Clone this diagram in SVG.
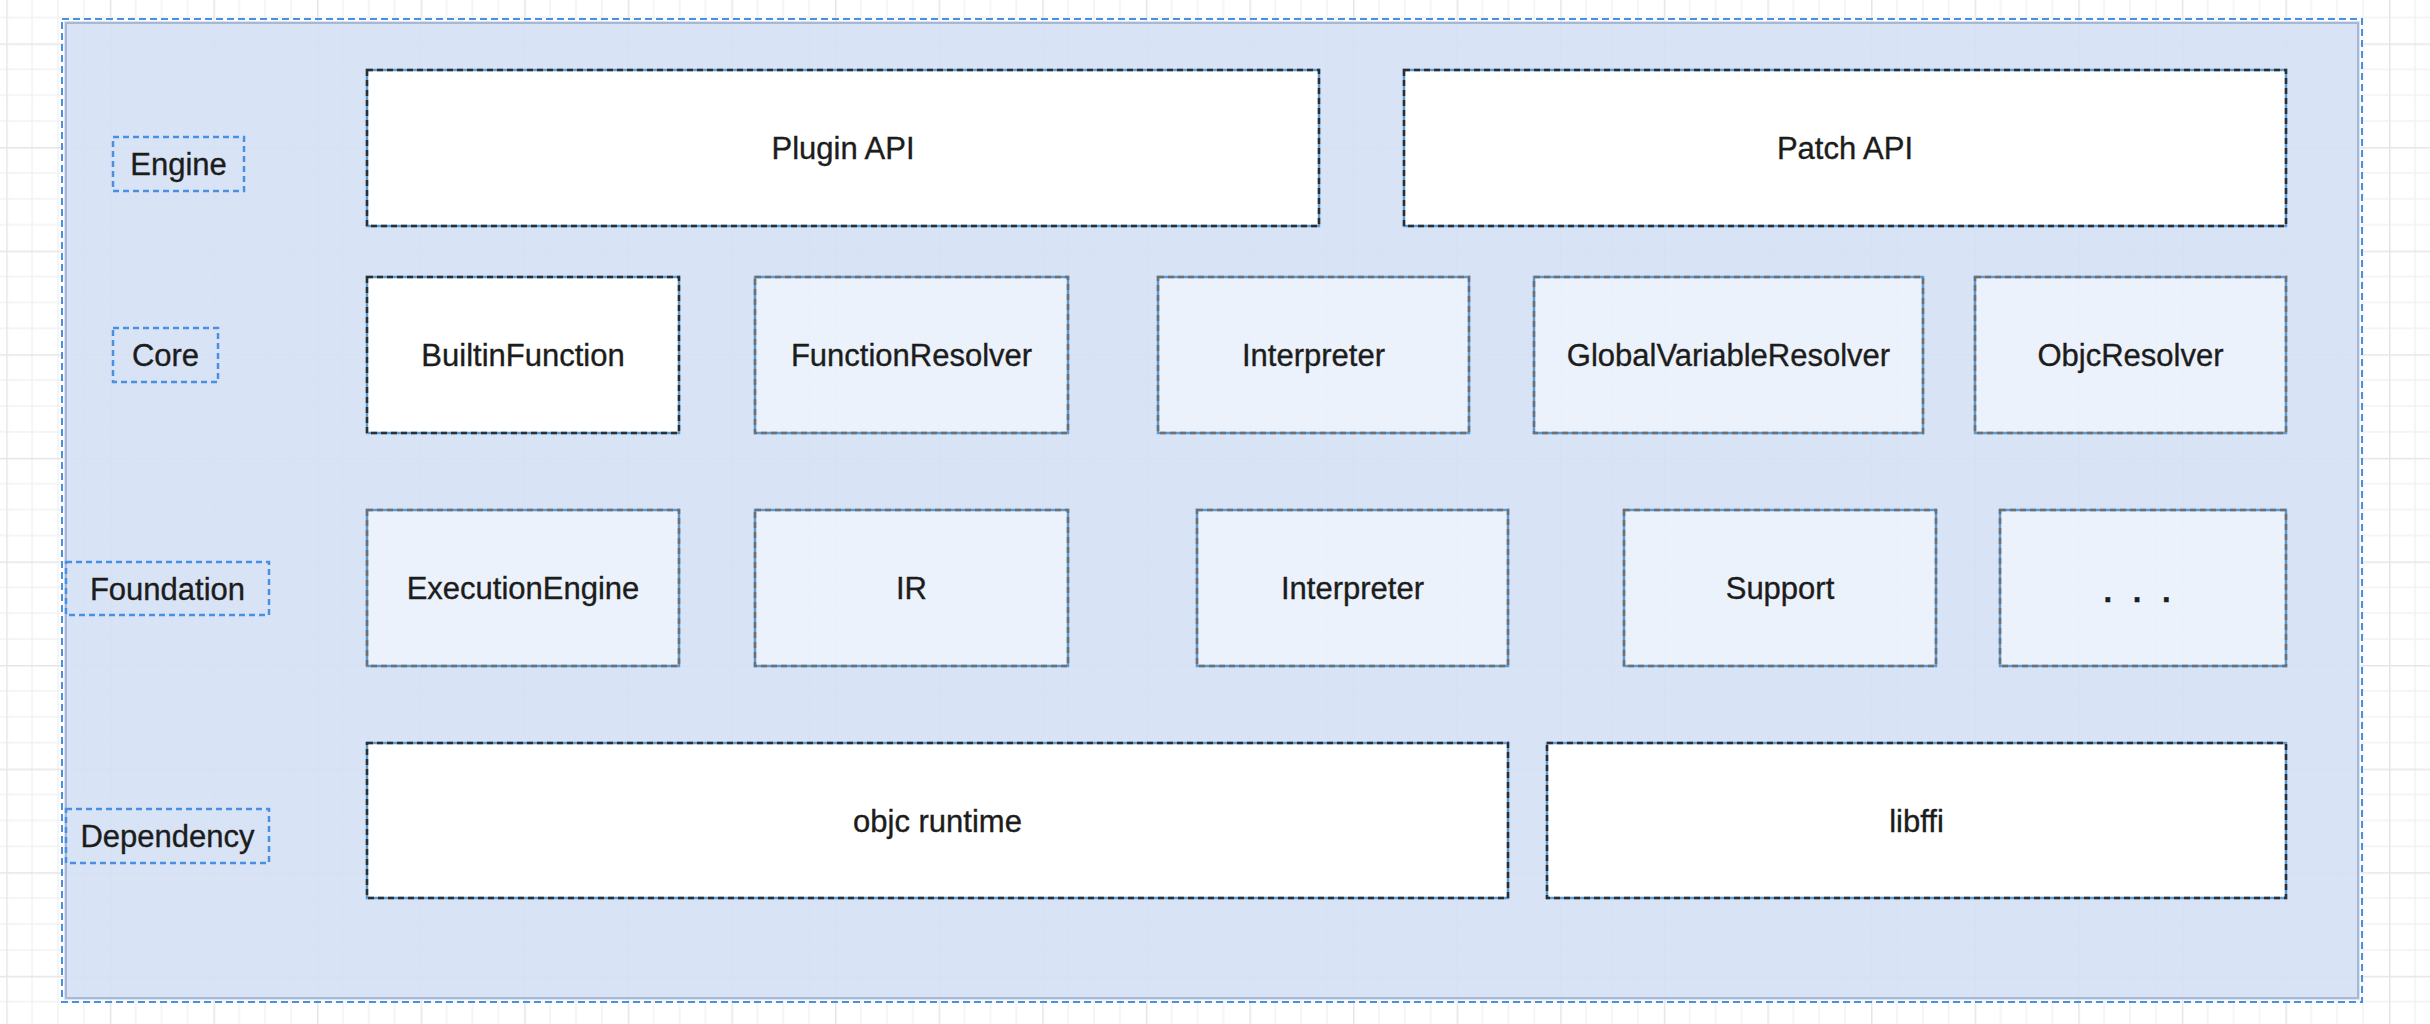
<svg xmlns="http://www.w3.org/2000/svg" width="2430" height="1024" viewBox="0 0 2430 1024">
  <defs>
    <pattern id="grid" patternUnits="userSpaceOnUse" x="6.2" y="43.4" width="103.6" height="103.6">
      <path d="M25.9 0V103.6M51.8 0V103.6M77.7 0V103.6M0 25.9H103.6M0 51.8H103.6M0 77.7H103.6" stroke="#f2f2f2" stroke-width="1.5" fill="none"/>
      <path d="M0.75 0V103.6M0 0.75H103.6" stroke="#e6e6e6" stroke-width="1.5" fill="none"/>
    </pattern>
    <style>
      .lbl{font-family:"Liberation Sans",Arial,Helvetica,sans-serif;font-size:31px;fill:#1c1c1c;stroke:#1c1c1c;stroke-width:0.35;text-anchor:middle}
      .base{stroke:#5b9bd5;stroke-width:2.5}
      .dk{fill:none;stroke:#2e2e2e;stroke-width:2.5;stroke-dasharray:6 4}
      .gr{fill:none;stroke:#707070;stroke-width:2.5;stroke-dasharray:6 4}
      .white{fill:#ffffff}
      .light{fill:#ffffff;fill-opacity:0.5}
      .tag{fill:none;stroke:#4a90e2;stroke-width:2.5;stroke-dasharray:6 4}
    </style>
  </defs>
  <rect width="2430" height="1024" fill="#ffffff"/>
  <rect width="2430" height="1024" fill="url(#grid)"/>

  <g id="container">
    <rect x="64" y="21" width="2296" height="979" fill="#d4e1f5" fill-opacity="0.9"/>
    <rect x="66" y="23" width="2292" height="975" fill="none" stroke="#a8b8d2" stroke-width="2"/>
    <rect x="62" y="19" width="2300" height="983" fill="none" stroke="#4a90e2" stroke-width="2" stroke-dasharray="7 4"/>
  </g>

  <g id="labels">
    <g id="label-engine"><rect class="tag" x="113" y="137" width="131" height="54"/><text class="lbl" x="178.5" y="175">Engine</text></g>
    <g id="label-core"><rect class="tag" x="113" y="328" width="105" height="54"/><text class="lbl" x="165.5" y="366">Core</text></g>
    <g id="label-foundation"><rect class="tag" x="66" y="562" width="203" height="53"/><text class="lbl" x="167.5" y="599.5">Foundation</text></g>
    <g id="label-dependency"><rect class="tag" x="66" y="809" width="203" height="54"/><text class="lbl" x="167.5" y="847">Dependency</text></g>
  </g>

  <g id="engine-row">
    <g id="plugin-api"><rect class="white base" x="367" y="70" width="952" height="156"/><rect class="dk" x="367" y="70" width="952" height="156"/><text class="lbl" x="843" y="159">Plugin API</text></g>
    <g id="patch-api"><rect class="white base" x="1404" y="70" width="882" height="156"/><rect class="dk" x="1404" y="70" width="882" height="156"/><text class="lbl" x="1845" y="159">Patch API</text></g>
  </g>

  <g id="core-row">
    <g id="builtin-function"><rect class="white base" x="367" y="277" width="312" height="156"/><rect class="dk" x="367" y="277" width="312" height="156"/><text class="lbl" x="523" y="366">BuiltinFunction</text></g>
    <g id="function-resolver"><rect class="light base" x="755" y="277" width="313" height="156"/><rect class="gr" x="755" y="277" width="313" height="156"/><text class="lbl" x="911.5" y="366">FunctionResolver</text></g>
    <g id="interpreter-core"><rect class="light base" x="1158" y="277" width="311" height="156"/><rect class="gr" x="1158" y="277" width="311" height="156"/><text class="lbl" x="1313.5" y="366">Interpreter</text></g>
    <g id="global-variable-resolver"><rect class="light base" x="1534" y="277" width="389" height="156"/><rect class="gr" x="1534" y="277" width="389" height="156"/><text class="lbl" x="1728.5" y="366">GlobalVariableResolver</text></g>
    <g id="objc-resolver"><rect class="light base" x="1975" y="277" width="311" height="156"/><rect class="gr" x="1975" y="277" width="311" height="156"/><text class="lbl" x="2130.5" y="366">ObjcResolver</text></g>
  </g>

  <g id="foundation-row">
    <g id="execution-engine"><rect class="light base" x="367" y="510" width="312" height="156"/><rect class="gr" x="367" y="510" width="312" height="156"/><text class="lbl" x="523" y="599">ExecutionEngine</text></g>
    <g id="ir"><rect class="light base" x="755" y="510" width="313" height="156"/><rect class="gr" x="755" y="510" width="313" height="156"/><text class="lbl" x="911.5" y="599">IR</text></g>
    <g id="interpreter-foundation"><rect class="light base" x="1197" y="510" width="311" height="156"/><rect class="gr" x="1197" y="510" width="311" height="156"/><text class="lbl" x="1352.5" y="599">Interpreter</text></g>
    <g id="support"><rect class="light base" x="1624" y="510" width="312" height="156"/><rect class="gr" x="1624" y="510" width="312" height="156"/><text class="lbl" x="1780" y="599">Support</text></g>
    <g id="more"><rect class="light base" x="2000" y="510" width="286" height="156"/><rect class="gr" x="2000" y="510" width="286" height="156"/><text class="lbl" x="2140" y="602" font-weight="bold" letter-spacing="6">. . .</text></g>
  </g>

  <g id="dependency-row">
    <g id="objc-runtime"><rect class="white base" x="367" y="743" width="1141" height="155"/><rect class="dk" x="367" y="743" width="1141" height="155"/><text class="lbl" x="937.5" y="832">objc runtime</text></g>
    <g id="libffi"><rect class="white base" x="1547" y="743" width="739" height="155"/><rect class="dk" x="1547" y="743" width="739" height="155"/><text class="lbl" x="1916.5" y="832">libffi</text></g>
  </g>

  <g id="connectors"></g>
</svg>
